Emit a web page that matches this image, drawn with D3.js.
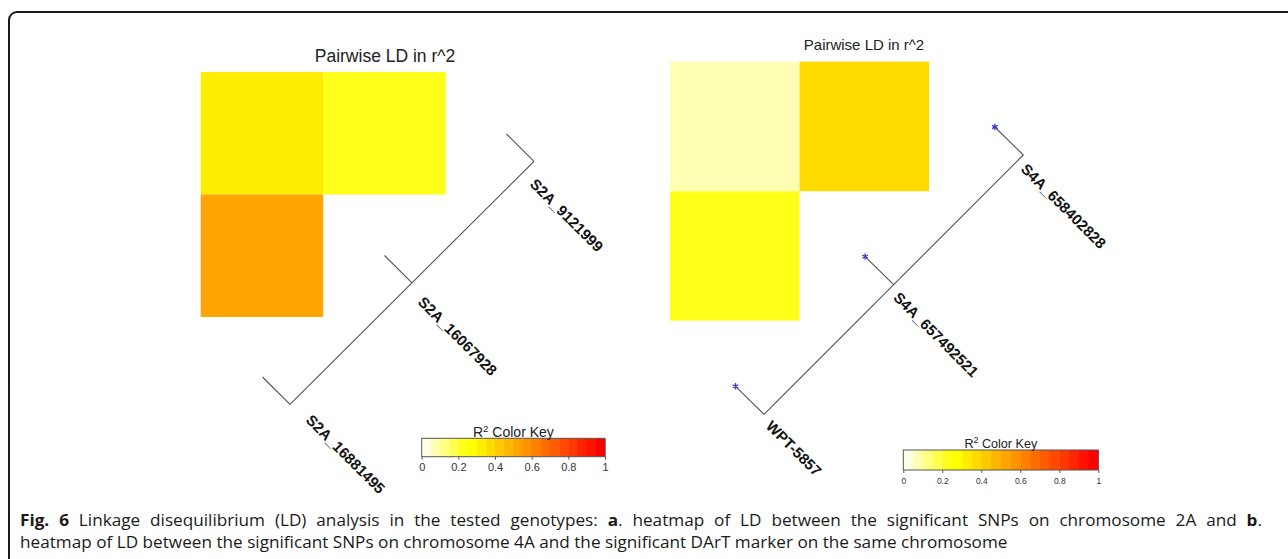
<!DOCTYPE html>
<html><head><meta charset="utf-8">
<script src="https://cdn.jsdelivr.net/npm/d3@7"></script>
<style>body{margin:0;background:#fff;} svg{display:block;}</style>
</head><body><svg id="c" width="1288" height="559"></svg>
<script>
// ---- data ----
const markersA = ["S2A_9121999", "S2A_16067928", "S2A_16881495"];
const markersB = ["S4A_658402828", "S4A_657492521", "WPT-5857"];
const cellRow = [0, 0, 1];
const cellCol = [0, 1, 0];
const ldA = [0.33, 0.23, 0.53];
const ldB = [0.08, 0.38, 0.23];
const keyTicks = [0, 0.2, 0.4, 0.6, 0.8, 1];
const markedB = [true, true, true];
const heatTitle = "Pairwise LD in r^2";
const captionBold = "Fig. 6";
const captionLine1 = " Linkage disequilibrium (LD) analysis in the tested genotypes: ";
const captionLine1b = ". heatmap of LD between the significant SNPs on chromosome 2A and ";
const captionLine2 = "heatmap of LD between the significant SNPs on chromosome 4A and the significant DArT marker on the same chromosome";

// ---- palette: rev(heat.colors(20)) ----
function hsv(h, s, v) {
  const i = Math.floor(h * 6), f = h * 6 - i;
  const p = v * (1 - s), q = v * (1 - f * s), t = v * (1 - (1 - f) * s);
  const m = [[v,t,p],[q,v,p],[p,v,t],[p,q,v],[t,p,v],[v,p,q]][((i % 6) + 6) % 6];
  return d3.rgb(m[0]*255, m[1]*255, m[2]*255).formatHex();
}
const nRain = 15, nPale = 5;
const heat = d3.range(nRain).map(k => hsv(k / (nRain - 1) / 6, 1, 1))
  .concat(d3.range(nPale).map(k => hsv(1/6, 1 - 1/(2*nPale) - k * (1 - 1/nPale) / (nPale - 1), 1)));
const palette = heat.slice().reverse();
const color = d3.scaleQuantize().domain([0, 1]).range(palette);

const svg = d3.select("#c");

// frame
svg.append("rect").attr("x", 9).attr("y", 12).attr("width", 1400).attr("height", 700)
  .attr("rx", 8).attr("fill", "none").attr("stroke", "#1a1a1a").attr("stroke-width", 2);

const panels = [
  { markers: markersA, ld: ldA, marked: null,
    hm: {x: 200.7, y: 72, size: 122.5},
    title: {x: 385, y: 61.5, size: 17.5},
    line: {x0: 534, y0: 161.3, x1: 290, y1: 404.3}, tick: {dx: -27.5, dy: -27.3},
    labLine: {x0: 529, y0: 185, x1: 305, y1: 421}, labSize: 15,
    key: {x0: 421.7, x1: 605, y0: 438.3, h: 18.4, titleY: 436.7, titleSize: 14, tickFont: 11, tickY: 14.3}
  },
  { markers: markersB, ld: ldB, marked: markedB,
    hm: {x: 670, y: 61.7, size: 129.5},
    title: {x: 864, y: 50, size: 15},
    line: {x0: 1023.3, y0: 155, x1: 764, y1: 414.3}, tick: {dx: -28.5, dy: -28},
    labLine: {x0: 1020, y0: 170, x1: 765, y1: 427}, labSize: 15,
    key: {x0: 903.3, x1: 1098.3, y0: 450, h: 20, titleY: 448, titleSize: 12.6, tickFont: 8.5, tickY: 14}
  }
];

panels.forEach(p => {
  const g = svg.append("g");
  // title
  g.append("text").attr("x", p.title.x).attr("y", p.title.y).attr("text-anchor", "middle")
    .attr("font-family", "Liberation Sans, Arial, sans-serif").attr("font-size", p.title.size)
    .attr("fill", "#222").text(heatTitle);
  // heatmap cells
  const xs = d3.scaleBand().domain([0, 1]).range([p.hm.x, p.hm.x + 2 * p.hm.size]);
  const ys = d3.scaleBand().domain([0, 1]).range([p.hm.y, p.hm.y + 2 * p.hm.size]);
  g.selectAll("rect.cell").data(p.ld).join("rect").attr("class", "cell")
    .attr("x", (d, i) => xs(cellCol[i])).attr("y", (d, i) => ys(cellRow[i]))
    .attr("width", xs.bandwidth()).attr("height", ys.bandwidth())
    .attr("fill", d => color(d));
  // genetic map line
  const pos = d3.scalePoint().domain(p.markers).range([0, 1]);
  const lx = d3.scaleLinear().domain([0, 1]).range([p.line.x0, p.line.x1]);
  const ly = d3.scaleLinear().domain([0, 1]).range([p.line.y0, p.line.y1]);
  g.append("line").attr("x1", lx(0)).attr("y1", ly(0)).attr("x2", lx(1)).attr("y2", ly(1))
    .attr("stroke", "#555").attr("stroke-width", 1.1);
  g.selectAll("line.tick").data(p.markers).join("line").attr("class", "tick")
    .attr("x1", d => lx(pos(d))).attr("y1", d => ly(pos(d)))
    .attr("x2", d => lx(pos(d)) + p.tick.dx).attr("y2", d => ly(pos(d)) + p.tick.dy)
    .attr("stroke", "#555").attr("stroke-width", 1.1);
  if (p.marked) {
    g.selectAll("path.star").data(p.markers.filter((d, i) => p.marked[i])).join("path")
      .attr("class", "star")
      .attr("d", d3.symbol(d3.symbolAsterisk, 28))
      .attr("transform", d => `translate(${lx(pos(d)) + p.tick.dx},${ly(pos(d)) + p.tick.dy})`)
      .attr("fill", "none").attr("stroke", "#3a3ad0").attr("stroke-width", 1.3);
  }
  const bx = d3.scaleLinear().domain([0, 1]).range([p.labLine.x0, p.labLine.x1]);
  const by = d3.scaleLinear().domain([0, 1]).range([p.labLine.y0, p.labLine.y1]);
  g.selectAll("text.lab").data(p.markers).join("text").attr("class", "lab")
    .attr("transform", d => `translate(${bx(pos(d))},${by(pos(d))}) rotate(45)`)
    .attr("font-family", "Liberation Sans, Arial, sans-serif").attr("font-weight", "bold")
    .attr("font-size", p.labSize).attr("fill", "#111").text(d => d);
  // color key
  const k = p.key;
  const kx = d3.scaleLinear().domain([0, 1]).range([k.x0, k.x1]);
  const bands = d3.scaleBand().domain(d3.range(palette.length)).range([k.x0, k.x1]);
  g.selectAll("rect.band").data(palette).join("rect").attr("class", "band")
    .attr("x", (d, i) => bands(i)).attr("y", k.y0).attr("width", bands.bandwidth() + 0.5)
    .attr("height", k.h).attr("fill", d => d);
  g.append("rect").attr("x", k.x0).attr("y", k.y0).attr("width", k.x1 - k.x0).attr("height", k.h)
    .attr("fill", "none").attr("stroke", "#555").attr("stroke-width", 1);
  const ax = g.append("g").attr("transform", `translate(0,${k.y0 + k.h})`)
    .call(d3.axisBottom(kx).tickValues(keyTicks).tickSize(3).tickFormat(d3.format("")));
  ax.select(".domain").remove();
  ax.selectAll("line").attr("stroke", "#555");
  ax.selectAll("text").attr("y", k.tickY).attr("dy", 0)
    .attr("font-family", "Liberation Sans, Arial, sans-serif").attr("font-size", k.tickFont).attr("fill", "#333");
  const kt = g.append("text").attr("x", (k.x0 + k.x1) / 2).attr("y", k.titleY).attr("text-anchor", "middle")
    .attr("font-family", "Liberation Sans, Arial, sans-serif").attr("font-size", k.titleSize).attr("fill", "#222");
  kt.append("tspan").text("R");
  kt.append("tspan").attr("font-size", k.titleSize * 0.7).attr("baseline-shift", "super").text("2");
  kt.append("tspan").text(" Color Key");
});

// caption: narrow-looking font via horizontal scale, line 1 justified
const capFs = 16.5;
const cap = svg.append("g").attr("font-family", "Open Sans, sans-serif").attr("fill", "#1a1a1a");
const t2 = cap.append("text").attr("x", 0).attr("y", 548).attr("font-size", capFs).text(captionLine2);
const sx = 988 / t2.node().getComputedTextLength();
cap.attr("transform", `translate(20,0) scale(${sx},1)`);
const line1Full = captionBold + captionLine1 + "a" + captionLine1b + "b.";
const t1 = cap.append("text").attr("x", 0).attr("y", 526).attr("font-size", capFs);
t1.append("tspan").attr("font-weight", "bold").text(captionBold);
t1.append("tspan").text(captionLine1);
t1.append("tspan").attr("font-weight", "bold").text("a");
t1.append("tspan").text(captionLine1b);
t1.append("tspan").attr("font-weight", "bold").text("b");
t1.append("tspan").text(".");
const nSpaces = (line1Full.match(/ /g) || []).length;
const w1 = t1.node().getComputedTextLength();
t1.attr("word-spacing", Math.max(0, (1242 / sx - w1) / nSpaces));
</script></body></html>
